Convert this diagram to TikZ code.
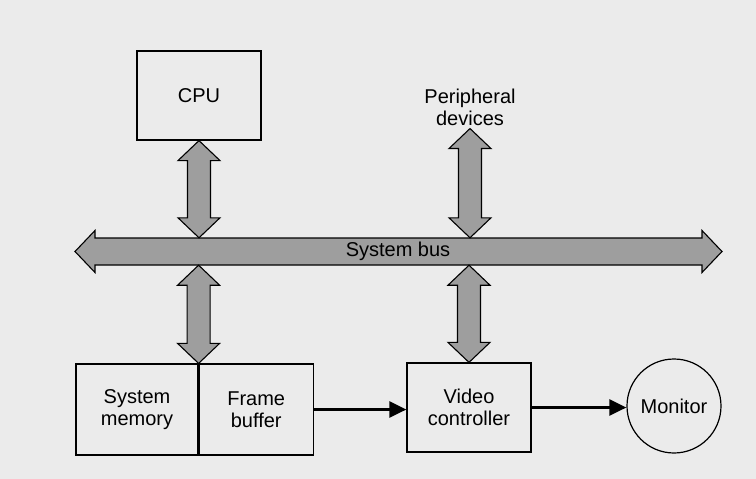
\documentclass[tikz,border=0pt]{standalone}
\usepackage{fontspec}
\setmainfont{Liberation Sans}
\usetikzlibrary{arrows.meta,calc}

\tikzset{
  unit/.style={draw, line width=1.2pt, align=center, inner sep=0pt},
  lbl/.style={font=\fontsize{20}{22}\selectfont},
  fatfill/.style={draw, line width=1.1pt, fill=black!38},
  % vertical fat double arrow, tip at the start and at the target
  vfat/.style={fatfill, to path={let \p1=(\tikztostart), \p2=(\tikztotarget) in
    (\x1,\y1) -- (\x1-21pt,\y1-20pt) -- (\x1-11.5pt,\y1-20pt) -- (\x1-11.5pt,\y2+20pt)
    -- (\x1-21pt,\y2+20pt) -- (\x1,\y2) -- (\x1+21pt,\y2+20pt) -- (\x1+11.5pt,\y2+20pt)
    -- (\x1+11.5pt,\y1-20pt) -- (\x1+21pt,\y1-20pt) -- cycle}},
  % horizontal fat double arrow for the bus
  hfat/.style={fatfill, to path={let \p1=(\tikztostart), \p2=(\tikztotarget) in
    (\x1,\y1) -- (\x1+20pt,\y1+21pt) -- (\x1+20pt,\y1+13.5pt) -- (\x2-20pt,\y1+13.5pt)
    -- (\x2-20pt,\y1+21pt) -- (\x2,\y1) -- (\x2-20pt,\y1-21pt) -- (\x2-20pt,\y1-13.5pt)
    -- (\x1+20pt,\y1-13.5pt) -- (\x1+20pt,\y1-21pt) -- cycle}},
  flow/.style={line width=2.8pt, -{Triangle[length=17pt,width=16pt]}}
}

\begin{document}
\begin{tikzpicture}[x=1pt, y=-1pt, lbl]
% paper
\fill[black!8] (0,0) rectangle (756,479);
\useasboundingbox (0,0) rectangle (756,479);

% the system bus
\coordinate (busl) at (75,251.5);
\coordinate (busr) at (722,251.5);
\draw[hfat] (busl) to (busr);
\node[inner sep=0pt, minimum height=27pt] (bus) at (398,251.5) {System bus};

% units above the bus
\node[unit, minimum width=124pt, minimum height=89pt] (cpu) at (199,95.5) {CPU};
\node[align=center, inner sep=3pt] (periph) at (470,107) {Peripheral\\devices};

% units below the bus
\node[unit, minimum width=122pt, minimum height=91pt] (mem) at (137,409.5) {System\\memory};
\node[unit, minimum width=114pt, minimum height=91pt, anchor=west] (fb) at (mem.east) {Frame\\buffer};
\node[unit, minimum width=124pt, minimum height=89pt] (vc) at (469,407.5) {Video\\controller};
\node[unit, circle, minimum size=94pt] (mon) at (674,406) {Monitor};

% bus connections
\draw[vfat] (cpu.south) to (cpu.south |- bus.north);
\draw[vfat] (periph.south) to (periph.south |- bus.north);
\draw[vfat] (bus.south -| mem.north east) to (mem.north east);
\draw[vfat] (bus.south -| vc.north) to (vc.north);

% display path
\draw[flow] (fb.east) -- (fb.east -| vc.west);
\draw[flow] (vc.east) -- (vc.east -| mon.west);
\end{tikzpicture}
\end{document}
